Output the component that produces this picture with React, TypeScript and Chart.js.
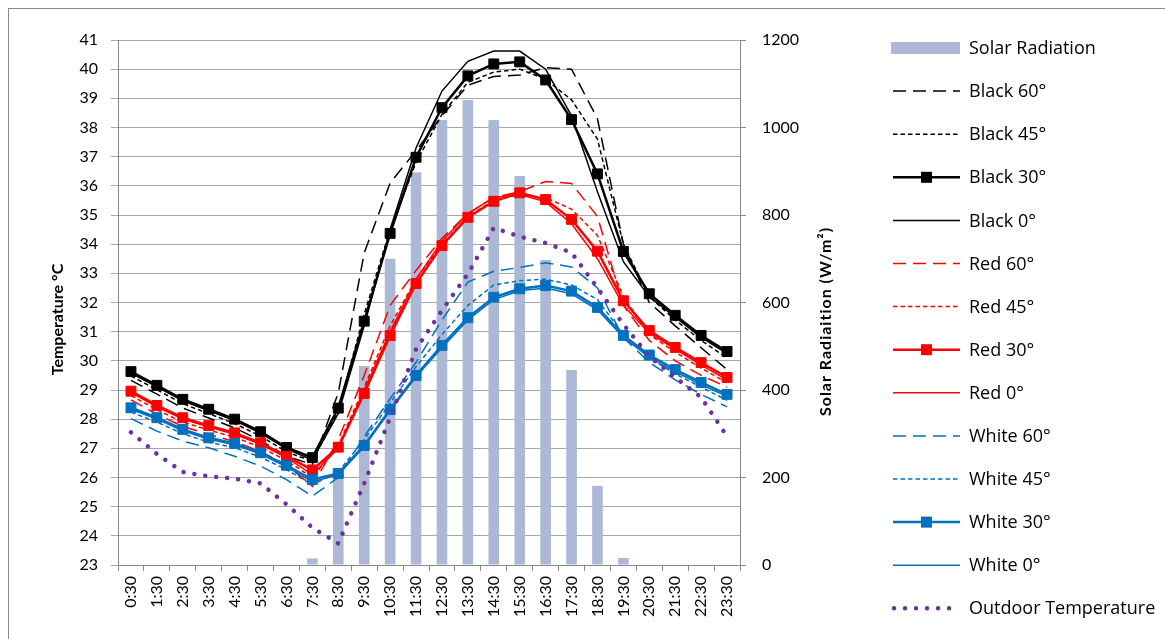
import React, { useEffect, useRef } from "react";
import { Chart, registerables } from "chart.js";

Chart.register(...registerables);

const hours = [
  "0:30", "1:30", "2:30", "3:30", "4:30", "5:30", "6:30", "7:30", "8:30", "9:30", "10:30", "11:30",
  "12:30", "13:30", "14:30", "15:30", "16:30", "17:30", "18:30", "19:30", "20:30", "21:30", "22:30", "23:30",
];

const tempTicks = { min: 23, max: 41, step: 1 };
const solarTicks = { min: 0, max: 1200, step: 200 };

const solarRadiation = [0, 0, 0, 0, 0, 0, 0, 15, 210, 455, 700, 898, 1017, 1063, 1017, 889, 697, 446, 181, 16, 0, 0, 0, 0];

const black60 = [29.33, 28.86, 28.38, 28.04, 27.7, 27.27, 26.73, 26.45, 28.9, 33.7, 36.1, 37.2, 38.4, 39.45, 39.75, 39.8, 40.05, 40.0, 38.3, 34.0, 32.0, 31.2, 30.45, 29.7];
const black45 = [29.48, 29.01, 28.53, 28.19, 27.85, 27.42, 26.88, 26.55, 28.3, 31.6, 34.5, 36.8, 38.45, 39.55, 39.9, 40.0, 39.65, 38.95, 37.6, 34.0, 32.2, 31.4, 30.7, 30.1];
const black30 = [29.63, 29.16, 28.68, 28.34, 28.0, 27.57, 27.03, 26.68, 28.38, 31.36, 34.37, 36.98, 38.68, 39.77, 40.18, 40.25, 39.63, 38.27, 36.41, 33.75, 32.3, 31.56, 30.87, 30.32];
const black0 = [29.58, 29.11, 28.63, 28.29, 27.95, 27.52, 26.98, 26.6, 28.2, 31.2, 34.5, 37.3, 39.25, 40.27, 40.62, 40.62, 40.0, 38.4, 35.8, 33.4, 32.2, 31.5, 30.8, 30.25];

const red60 = [28.66, 28.17, 27.75, 27.48, 27.23, 26.89, 26.43, 25.7, 27.3, 29.5, 31.9, 33.1, 34.2, 35.05, 35.6, 35.8, 36.15, 36.08, 34.95, 31.9, 30.7, 30.0, 29.5, 29.1];
const red45 = [28.81, 28.32, 27.9, 27.63, 27.38, 27.04, 26.58, 26.0, 27.1, 29.1, 31.2, 32.8, 34.0, 34.95, 35.5, 35.7, 35.6, 35.2, 34.3, 32.2, 30.9, 30.3, 29.75, 29.25];
const red30 = [28.96, 28.47, 28.05, 27.78, 27.53, 27.19, 26.73, 26.26, 27.04, 28.88, 30.87, 32.65, 33.95, 34.92, 35.47, 35.76, 35.53, 34.85, 33.76, 32.06, 31.04, 30.46, 29.94, 29.43];
const red0 = [28.91, 28.42, 28.0, 27.73, 27.48, 27.14, 26.68, 26.1, 27.0, 29.0, 31.0, 32.8, 34.1, 35.05, 35.6, 35.7, 35.45, 34.7, 33.5, 31.9, 30.95, 30.4, 29.85, 29.35];

const white60 = [28.02, 27.59, 27.25, 27.02, 26.73, 26.39, 25.93, 25.36, 26.0, 27.4, 28.7, 29.95, 31.4, 32.7, 33.07, 33.2, 33.36, 33.22, 32.5, 30.8, 29.95, 29.35, 28.85, 28.42];
const white45 = [28.24, 27.9, 27.5, 27.21, 27.02, 26.7, 26.27, 25.75, 26.2, 27.3, 28.55, 29.8, 30.9, 31.9, 32.6, 32.75, 32.8, 32.6, 32.1, 30.9, 30.1, 29.55, 29.1, 28.65];
const white30 = [28.39, 28.05, 27.65, 27.36, 27.17, 26.85, 26.42, 25.93, 26.14, 27.1, 28.33, 29.5, 30.53, 31.48, 32.18, 32.47, 32.58, 32.39, 31.83, 30.87, 30.2, 29.7, 29.26, 28.85];
const white0 = [28.34, 28.0, 27.6, 27.31, 27.12, 26.8, 26.37, 25.85, 26.1, 27.05, 28.3, 29.45, 30.45, 31.4, 32.1, 32.4, 32.5, 32.3, 31.75, 30.8, 30.12, 29.62, 29.18, 28.78];

const outdoorTemperature = [27.55, 26.81, 26.19, 26.04, 25.96, 25.8, 25.08, 24.28, 23.74, 25.8, 28.05, 30.4, 31.73, 32.98, 34.56, 34.26, 34.04, 33.71, 32.5, 31.25, 30.15, 29.43, 28.75, 27.41];

type Kind = "long" | "short" | "marker" | "solid" | "dot";

const BLACK = "#000000";
const RED = "#ff0000";
const BLUE = "#0070c0";
const PURPLE = "#7030a0";
const BAR = "#abb9d6";

const lineSeries: { label: string; data: number[]; color: string; kind: Kind }[] = [
  { label: "Black 60°", data: black60, color: BLACK, kind: "long" },
  { label: "Black 45°", data: black45, color: BLACK, kind: "short" },
  { label: "Black 30°", data: black30, color: BLACK, kind: "marker" },
  { label: "Black 0°", data: black0, color: BLACK, kind: "solid" },
  { label: "Red 60°", data: red60, color: RED, kind: "long" },
  { label: "Red 45°", data: red45, color: RED, kind: "short" },
  { label: "Red 30°", data: red30, color: RED, kind: "marker" },
  { label: "Red 0°", data: red0, color: RED, kind: "solid" },
  { label: "White 60°", data: white60, color: BLUE, kind: "long" },
  { label: "White 45°", data: white45, color: BLUE, kind: "short" },
  { label: "White 30°", data: white30, color: BLUE, kind: "marker" },
  { label: "White 0°", data: white0, color: BLUE, kind: "solid" },
  { label: "Outdoor Temperature", data: outdoorTemperature, color: PURPLE, kind: "dot" },
];

const styleFor = (kind: Kind) => {
  switch (kind) {
    case "long":
      return { width: 1.5, dash: [13, 7], cap: "butt" as const };
    case "short":
      return { width: 1.5, dash: [4.5, 3], cap: "butt" as const };
    case "marker":
      return { width: 2.5, dash: [] as number[], cap: "butt" as const };
    case "solid":
      return { width: 1.5, dash: [] as number[], cap: "butt" as const };
    case "dot":
      return { width: 4.5, dash: [0.01, 11], cap: "round" as const };
  }
};

const FONT = "Lato, 'Noto Sans', sans-serif";
const LEGEND_FONT = "'Open Sans', 'Noto Sans', sans-serif";

const overlayPlugin = {
  id: "overlay",
  afterDraw(chart: any) {
    const ctx: CanvasRenderingContext2D = chart.ctx;
    const area = chart.chartArea;
    const midY = (area.top + area.bottom) / 2;
    ctx.save();
    ctx.fillStyle = "#000";
    ctx.textBaseline = "middle";
    ctx.textAlign = "center";
    ctx.font = `bold 16px ${FONT}`;
    // left axis title
    ctx.save();
    ctx.translate(49, midY + 17);
    ctx.rotate(-Math.PI / 2);
    ctx.fillText("Temperature °C", 0, 0);
    ctx.restore();
    // right axis title
    ctx.save();
    (ctx as any).letterSpacing = "1px";
    ctx.translate(817, midY + 19);
    ctx.rotate(-Math.PI / 2);
    ctx.fillText("Solar Radiaition (W/m²)", 0, 0);
    ctx.restore();

    // legend
    const x0 = 884;
    const x1 = 951;
    const tx = 960;
    const y0 = 39;
    const step = 43.1;
    ctx.font = `18px ${LEGEND_FONT}`;
    ctx.textAlign = "left";
    ctx.fillStyle = BAR;
    ctx.fillRect(x0 - 2, y0 - 6, x1 - x0 + 2, 12);
    ctx.fillStyle = "#000";
    ctx.fillText("Solar Radiation", tx, y0 + 1);
    lineSeries.forEach((s, i) => {
      const y = y0 + step * (i + 1);
      const st = styleFor(s.kind);
      ctx.save();
      ctx.strokeStyle = s.color;
      ctx.lineWidth = st.width;
      ctx.lineCap = st.cap;
      ctx.setLineDash(st.dash);
      ctx.beginPath();
      ctx.moveTo(s.kind === "dot" ? x0 + 1 : x0, y);
      ctx.lineTo(x1, y);
      ctx.stroke();
      if (s.kind === "marker") {
        ctx.setLineDash([]);
        ctx.fillStyle = s.color;
        ctx.fillRect((x0 + x1) / 2 - 5.5, y - 5.5, 11, 11);
      }
      ctx.restore();
      ctx.fillStyle = "#000";
      ctx.fillText(s.label, tx, y + 1);
    });
    ctx.restore();
  },
};

export default function App() {
  const canvasRef = useRef<HTMLCanvasElement | null>(null);

  useEffect(() => {
    if (!canvasRef.current) return;
    const lineDatasets = lineSeries.map((s, i) => {
      const st = styleFor(s.kind);
      const marker = s.kind === "marker";
      return {
        type: "line" as const,
        label: s.label,
        data: s.data,
        yAxisID: "y",
        borderColor: s.color,
        backgroundColor: s.color,
        borderWidth: st.width,
        borderDash: st.dash,
        borderCapStyle: st.cap,
        pointStyle: "rect" as const,
        pointRadius: marker ? 7 : 0,
        pointHoverRadius: marker ? 7 : 0,
        pointBackgroundColor: s.color,
        pointBorderColor: s.color,
        pointBorderWidth: 1,
        tension: 0,
        fill: false,
        order: lineSeries.length - i,
      };
    });
    const chart = new Chart(canvasRef.current, {
      type: "bar",
      data: {
        labels: hours,
        datasets: [
          {
            type: "bar" as const,
            label: "Solar Radiation",
            data: solarRadiation,
            yAxisID: "y1",
            backgroundColor: BAR,
            barPercentage: 0.41,
            categoryPercentage: 1,
            order: 100,
          },
          ...lineDatasets,
        ] as any,
      },
      options: {
        responsive: false,
        animation: false,
        events: [],
        layout: { padding: { left: 0, top: 31, right: 285, bottom: 0 } },
        plugins: { legend: { display: false }, tooltip: { enabled: false } },
        scales: {
          x: {
            type: "category",
            offset: true,
            grid: { offset: true, drawOnChartArea: false, tickLength: 6, color: "#888888" },
            border: { color: "#888888" },
            ticks: {
              autoSkip: false,
              maxRotation: 90,
              minRotation: 90,
              padding: 5,
              color: "#000",
              font: { family: FONT, size: 16 },
            },
            afterFit: (scale: any) => {
              scale.height = 74;
            },
          },
          y: {
            type: "linear",
            position: "left",
            min: tempTicks.min,
            max: tempTicks.max,
            ticks: { stepSize: tempTicks.step, padding: 13, color: "#000", font: { family: FONT, size: 16 } },
            grid: { color: "#a6a6a6", tickLength: 7 },
            border: { color: "#888888" },
            afterFit: (scale: any) => {
              scale.width = 109;
            },
          },
          y1: {
            type: "linear",
            position: "right",
            min: solarTicks.min,
            max: solarTicks.max,
            ticks: {
              stepSize: solarTicks.step,
              padding: 16,
              color: "#000",
              font: { family: FONT, size: 16 },
              callback: (v: any) => String(v),
            },
            grid: { drawOnChartArea: false, tickLength: 6, color: "#888888" },
            border: { color: "#888888" },
            afterFit: (scale: any) => {
              scale.width = 140;
            },
          },
        },
      },
      plugins: [overlayPlugin],
    });
    return () => chart.destroy();
  }, []);

  return (
    <div
      style={{
        position: "absolute",
        left: 8,
        top: 8,
        width: 1157,
        height: 631,
        boxSizing: "border-box",
        borderLeft: "1px solid #8a8a8a",
        borderTop: "1px solid #8a8a8a",
        overflow: "hidden",
      }}
    >
      <canvas ref={canvasRef} width={1156} height={630} style={{ display: "block" }} />
    </div>
  );
}
